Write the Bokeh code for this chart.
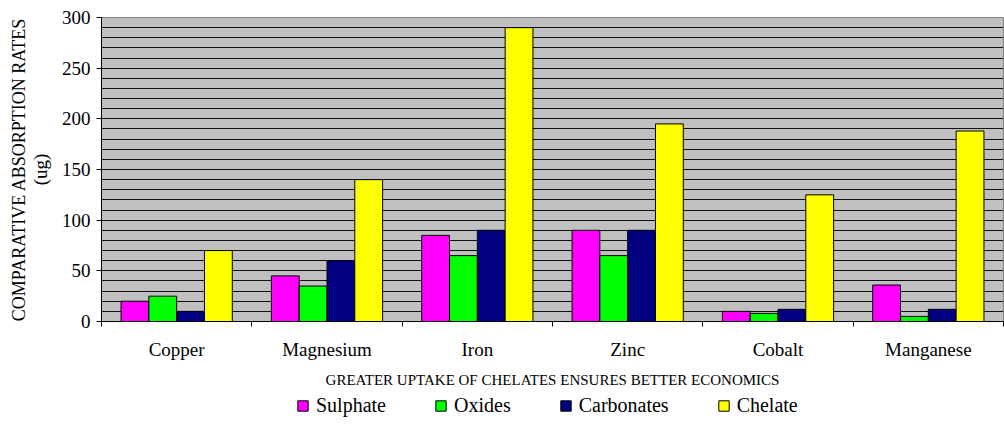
from bokeh.plotting import figure
from bokeh.layouts import column
from bokeh.models import Range1d, FixedTicker, SingleIntervalTicker, Title, Legend, LegendItem
from bokeh.embed import file_html
from bokeh.resources import INLINE

categories = ["Copper", "Magnesium", "Iron", "Zinc", "Cobalt", "Manganese"]
sulphate = [20, 45, 85, 90, 10, 36]
oxides = [25, 35, 65, 65, 8, 5]
carbonates = [10, 60, 90, 90, 12, 12]
chelate = [70, 140, 290, 195, 125, 188]
series_names = ["Sulphate", "Oxides", "Carbonates", "Chelate"]
y_ticks = [0, 50, 100, 150, 200, 250, 300]
y_label_1 = "COMPARATIVE ABSORPTION RATES"
y_label_2 = "(ug)"
x_label = "GREATER UPTAKE OF CHELATES ENSURES BETTER ECONOMICS"

colors = ["#FF00FF", "#00FF00", "#000080", "#FFFF00"]
FONT = "Liberation Serif"
series = [sulphate, oxides, carbonates, chelate]

p = figure(width=1004, height=392, output_backend="svg", toolbar_location=None,
           x_range=Range1d(0, len(categories)), y_range=Range1d(0, 300),
           min_border_left=101, min_border_right=1, min_border_top=17, min_border_bottom=71)

p.background_fill_color = "#C0C0C0"
p.outline_line_color = "#808080"
p.outline_line_width = 1

bw = 0.185
for i, vals in enumerate(series):
    xs = [k + 0.5 + (i - 1.5) * bw for k in range(len(categories))]
    p.vbar(x=xs, top=vals, bottom=0, width=bw, fill_color=colors[i],
           line_color="black", line_width=1)

# grid
p.xgrid.visible = False
p.ygrid.ticker = SingleIntervalTicker(interval=10)
p.ygrid.grid_line_color = "#111111"
p.ygrid.grid_line_width = 1

# y axis
p.yaxis.ticker = FixedTicker(ticks=y_ticks)
p.yaxis.axis_line_color = "black"
p.yaxis.major_tick_out = 5
p.yaxis.major_tick_in = 0
p.yaxis.minor_tick_line_color = None
p.yaxis.major_label_text_font = FONT
p.yaxis.major_label_text_font_size = "19px"
p.yaxis.major_label_text_color = "black"
p.yaxis.major_label_standoff = 6
p.yaxis.axis_label = y_label_2
p.yaxis.axis_label_text_font = FONT
p.yaxis.axis_label_text_font_size = "19px"
p.yaxis.axis_label_text_font_style = "normal"
p.yaxis.axis_label_text_color = "black"
p.yaxis.axis_label_standoff = 8

try:
    ytitle = Title(text=y_label_1, align="center", offset=9, standoff=-5,
                   text_font=FONT, text_font_size="18px", text_font_style="normal",
                   text_color="black")
except Exception:
    ytitle = Title(text=y_label_1, align="center", offset=9, standoff=0,
                   text_font=FONT, text_font_size="18px", text_font_style="normal",
                   text_color="black")
p.add_layout(ytitle, "left")

# x axis
p.xaxis.ticker = FixedTicker(ticks=[k + 0.5 for k in range(len(categories))],
                             minor_ticks=list(range(len(categories) + 1)))
p.xaxis.major_label_overrides = {k + 0.5: c for k, c in enumerate(categories)}
p.xaxis.axis_line_color = "black"
p.xaxis.major_tick_line_color = None
p.xaxis.major_tick_out = 5
p.xaxis.major_tick_in = 0
p.xaxis.minor_tick_out = 5
p.xaxis.minor_tick_in = 0
p.xaxis.minor_tick_line_color = "black"
p.xaxis.major_label_text_font = FONT
p.xaxis.major_label_text_font_size = "19px"
p.xaxis.major_label_text_color = "black"
p.xaxis.major_label_standoff = 12
p.xaxis.axis_label = x_label
p.xaxis.axis_label_text_font = FONT
p.xaxis.axis_label_text_font_size = "15px"
p.xaxis.axis_label_text_font_style = "normal"
p.xaxis.axis_label_text_color = "black"
p.xaxis.axis_label_standoff = 9

# legend in a separate strip below the chart (its swatches come from
# placeholder renderers whose single point lies outside the visible range)
lg = figure(width=1004, height=35, output_backend="svg", toolbar_location=None,
            x_range=Range1d(0, 1), y_range=Range1d(0, 1),
            x_axis_location=None, y_axis_location=None,
            min_border_left=0, min_border_right=0, min_border_top=0, min_border_bottom=0)
lg.outline_line_color = None
lg.background_fill_alpha = 0
lg.border_fill_alpha = 0
lg.xgrid.visible = False
lg.ygrid.visible = False
dummies = []
for i in range(len(series_names)):
    dummies.append(lg.vbar(x=[-5], top=[-5], bottom=[-6], width=0.1, fill_color=colors[i],
                           line_color="black", line_width=1))
legend = Legend(items=[LegendItem(label=n, renderers=[r]) for n, r in zip(series_names, dummies)],
                orientation="horizontal", location=(195, 10),
                glyph_width=13, glyph_height=13, label_standoff=7, spacing=48,
                padding=0, margin=0, border_line_color=None, background_fill_alpha=0,
                label_text_font=FONT, label_text_font_size="20px", label_text_color="black")
lg.add_layout(legend)

open("out.html", "w").write(file_html(column(p, lg, spacing=0), INLINE))
